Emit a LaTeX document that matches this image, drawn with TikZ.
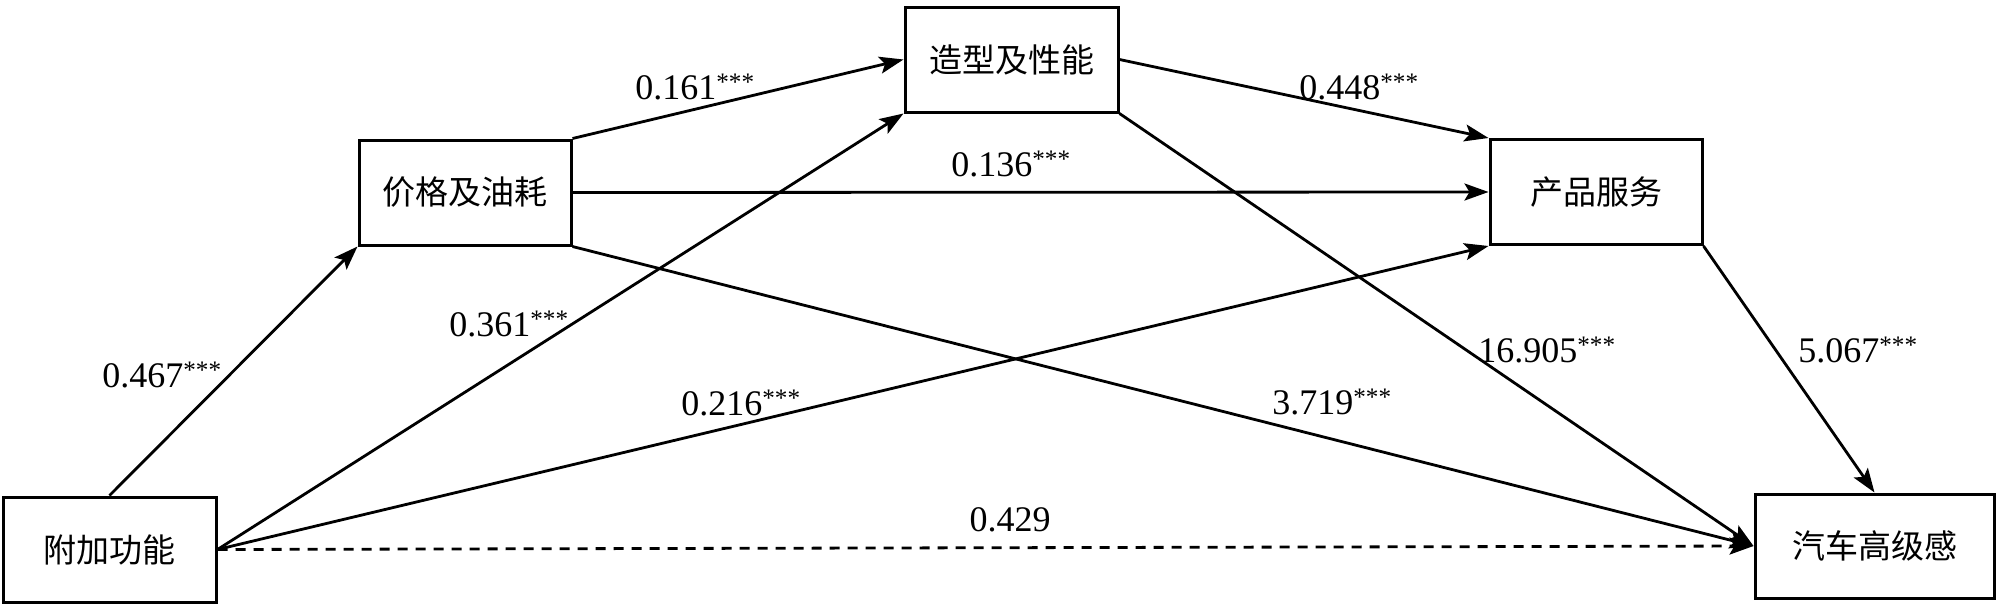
\documentclass[tikz,border=0pt]{standalone}
\usepackage{fontspec}
\setmainfont{Liberation Serif}
\newfontfamily\cjk{Noto Sans CJK SC}
\usetikzlibrary{arrows.meta}
\begin{document}
\begin{tikzpicture}[x=1pt,y=-1pt,
  box/.style={draw,line width=3pt,minimum width=#1,inner sep=0pt,minimum height=105pt,
    font=\cjk\fontsize{33}{40}\selectfont},
  box/.default=212pt,
  conn/.style={line width=2.8pt,-{Stealth[length=24pt,width=17pt,inset=5pt]}},
  lbl/.style={font=\fontsize{36}{42}\selectfont,inner sep=0pt}]
\useasboundingbox (0,0) rectangle (2000,605);
\node[box=213pt] (f) at (109.5,549.5) {附加功能};
\node[box=212pt] (p) at (465,192.5) {价格及油耗};
\node[box=213pt] (z) at (1011.5,59.5) {造型及性能};
\node[box=212pt] (c) at (1596,192) {产品服务};
\node[box=239pt,minimum height=104pt] (q) at (1874.5,546) {汽车高级感};
\draw[conn] (f.north) -- (p.south west);
\draw[conn] (f.east) -- (z.south west);
\draw[conn] (f.east) -- (c.south west);
\draw[conn,dash pattern=on 10pt off 8pt] (f.east) -- (q.west);
\draw[conn] (p.north east) -- (z.west);
\draw[conn] (p.east) -- (c.west);
\draw[conn] (p.south east) -- (q.west);
\draw[conn] (z.east) -- (c.north west);
\draw[conn] (z.south east) -- (q.west);
\draw[conn] (c.south east) -- (q.north);
\node[lbl] (l1) at (162,375) {0.467\textsuperscript{***}};
\node[lbl] (l2) at (509,324) {0.361\textsuperscript{***}};
\node[lbl] (l3) at (741,403) {0.216\textsuperscript{***}};
\node[lbl] (l4) at (1010,520) {0.429};
\node[lbl] (l5) at (695,87) {0.161\textsuperscript{***}};
\node[lbl] (l6) at (1011,164) {0.136\textsuperscript{***}};
\node[lbl] (l7) at (1332,402) {3.719\textsuperscript{***}};
\node[lbl] (l8) at (1359,87) {0.448\textsuperscript{***}};
\node[lbl] (l9) at (1547,350) {16.905\textsuperscript{***}};
\node[lbl] (l10) at (1858,350) {5.067\textsuperscript{***}};
\end{tikzpicture}
\end{document}
